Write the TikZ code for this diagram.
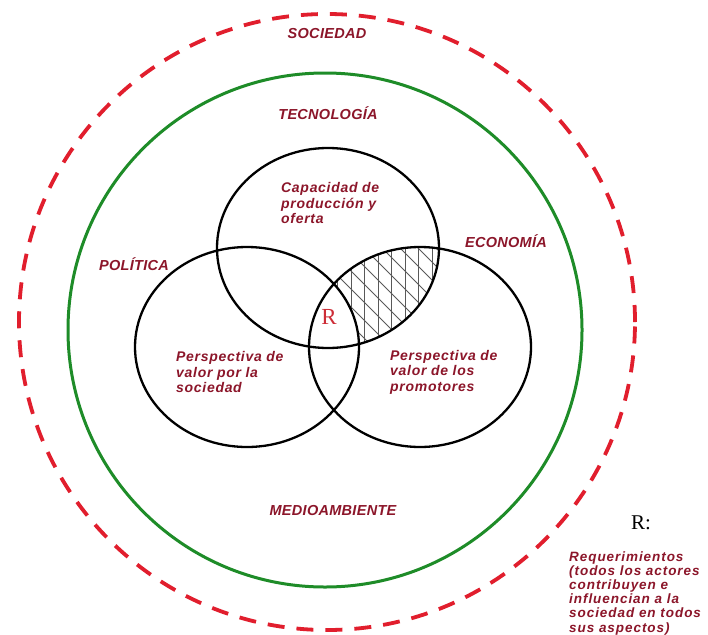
\documentclass[tikz,border=0pt]{standalone}
\usepackage{fontspec}
\setmainfont{Liberation Sans}
\newfontfamily\lblfont[LetterSpace=2]{Liberation Sans}
\newfontfamily\bodyfont[LetterSpace=5]{Liberation Sans}
\newfontfamily\reqfont[LetterSpace=7]{Liberation Sans}
\newfontfamily\rfont{Liberation Serif}
\definecolor{lblred}{RGB}{140,22,42}
\definecolor{dashred}{RGB}{225,30,45}
\definecolor{ringgreen}{RGB}{30,140,40}
\definecolor{rred}{RGB}{205,45,55}
\begin{document}
\begin{tikzpicture}[x=1pt,y=-1pt,
  lbl/.style={font=\lblfont\bfseries\itshape\fontsize{14.5}{16}\selectfont, text=lblred, inner sep=0pt},
  body/.style={font=\bodyfont\bfseries\itshape\fontsize{14}{15.5}\selectfont, text=lblred, inner sep=0pt, align=left, anchor=west},
  req/.style={font=\reqfont\bfseries\itshape\fontsize{13.5}{14.2}\selectfont, text=lblred, inner sep=0pt, align=left, anchor=west},
  venn/.style={draw=black, line width=2.3pt},
  hatchline/.style={draw=black!65, line width=0.8pt},
  outerring/.style={draw=dashred, line width=3.8pt, dash pattern=on 17pt off 12pt},
  innerring/.style={draw=ringgreen, line width=3pt}]
\useasboundingbox (0,0) rectangle (708,634);
\fill[white] (0,0) rectangle (708,634);

% rings
\draw[outerring] (327,322) circle [radius=308pt];
\draw[innerring] (325,330) circle [radius=257pt];

% hatched region: top and right circles, not left circle
\begin{scope}
  \clip (328,248) ellipse [x radius=111pt, y radius=100pt];
  \clip (420,347) ellipse [x radius=111pt, y radius=100pt];
  \foreach \i in {297,310.5,...,450} \draw[hatchline] (\i,230) -- (\i,360);
  \foreach \i in {100,118,...,470} \draw[hatchline] (\i,200) -- ++(180,180);
  \fill[white] (247,347) ellipse [x radius=112pt, y radius=100pt];
\end{scope}

% Venn circles
\draw[venn] (328,248) ellipse [x radius=111pt, y radius=100pt];
\draw[venn] (247,347) ellipse [x radius=112pt, y radius=100pt];
\draw[venn] (420,347) ellipse [x radius=111pt, y radius=100pt];

% ring labels
\node[lbl] (soc) at (327,34) {SOCIEDAD};
\node[lbl] (tec) at (328,113) {TECNOLOGÍA};
\node[lbl] (pol) at (134,264) {POLÍTICA};
\node[lbl] (eco) at (506,241) {ECONOMÍA};
\node[lbl] (med) at (333,510) {MEDIOAMBIENTE};

% Venn texts
\node[body] (cap) at (281,203) {Capacidad de\\producción y\\oferta};
\node[body] (pvs) at (176,372) {Perspectiva de\\valor por la\\sociedad};
\node[body] (pvp) at (390,372) {Perspectiva de\\valor de los\\promotores};
\node[font=\rfont\fontsize{23}{23}\selectfont, text=rred, inner sep=0pt] (r) at (329,317) {R};

% legend
\node[font=\rfont\fontsize{21}{21}\selectfont, text=black, inner sep=0pt] (rkey) at (641,523) {R:};
\node[req] (reqtxt) at (569,593) {Requerimientos\\(todos los actores\\contribuyen e\\influencian a la\\sociedad en todos\\sus aspectos)};
\end{tikzpicture}
\end{document}
